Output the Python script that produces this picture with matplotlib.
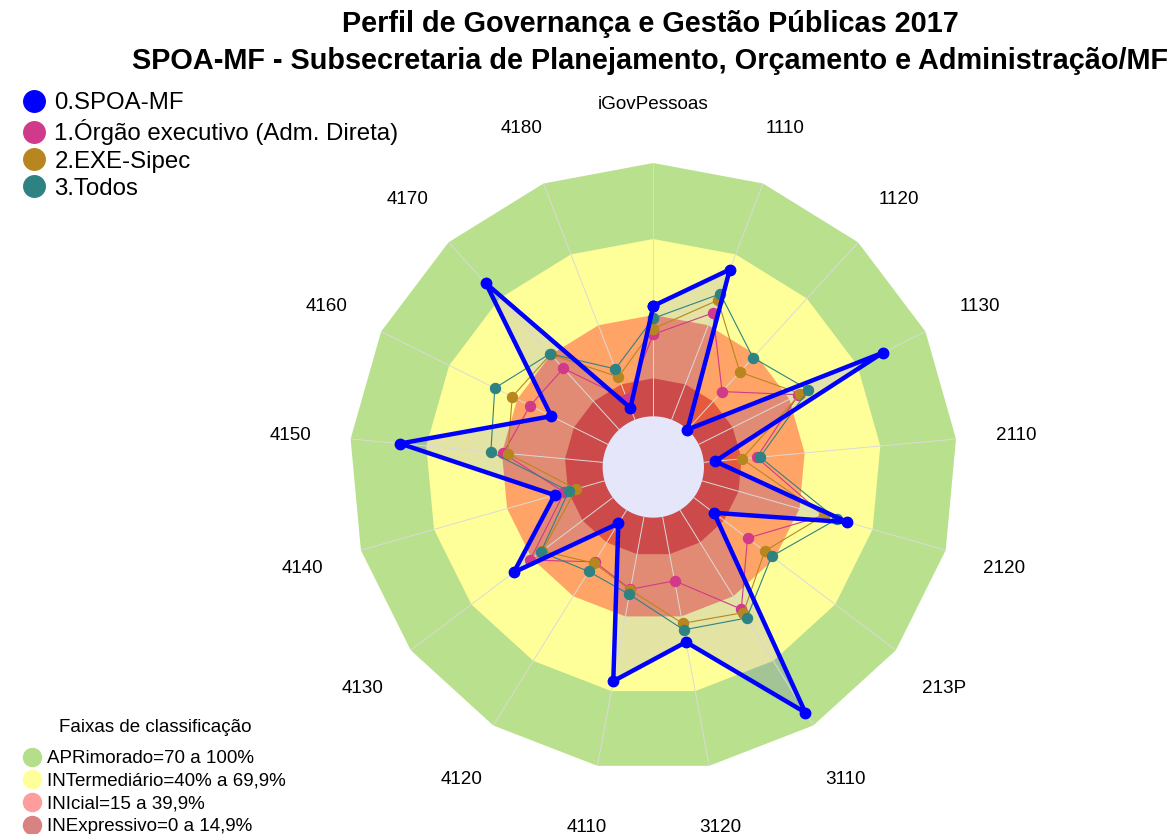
import numpy as np
import matplotlib
matplotlib.use("Agg")
import matplotlib.pyplot as plt
from matplotlib.lines import Line2D

plt.rcParams['font.family'] = ['Liberation Sans', 'DejaVu Sans']

# eixos do radar (sentido horário a partir do topo)
eixos = ['iGovPessoas', '1110', '1120', '1130', '2110', '2120', '213P', '3110',
         '3120', '4110', '4120', '4130', '4140', '4150', '4160', '4170', '4180']

# valores (%)
spoa_mf = [43.6, 63.6, 0.0, 81.2, 4.5, 59.7, 10.0, 94.0, 50.3, 66.0, 6.2, 49.0,
           20.5, 80.4, 25.0, 78.1, 5.0]
orgao_exec = [32.4, 45.2, 20.3, 44.0, 21.0, 50.0, 26.6, 46.0, 25.7, 29.1, 24.0, 41.0,
              16.5, 39.5, 34.3, 32.7, 8.6]
exe_sipec = [34.6, 50.6, 30.7, 44.9, 15.1, 50.0, 35.1, 47.6, 42.8, 29.4, 24.6, 35.0,
             11.7, 37.7, 42.2, 40.2, 18.1]
todos = [38.7, 53.3, 38.4, 48.4, 22.3, 55.3, 38.5, 50.1, 45.4, 31.2, 28.5, 35.6,
         14.7, 44.4, 49.9, 40.5, 21.5]

series_nomes = ['0.SPOA-MF', '1.Órgão executivo (Adm. Direta)', '2.EXE-Sipec', '3.Todos']
series_cores = ['#0000FF', '#D1398A', '#B8861E', '#2F8282']

# faixas de classificação (limite superior, cor fora, cor dentro do polígono SPOA-MF)
faixas_lim = [100, 70, 40, 15]
faixas_cor = ['#B9E08C', '#FFFF99', '#FFA466', '#E55A3C']
faixas_cor_dentro = ['#A3C596', '#E3E3A3', '#E28B74', '#CC4A4A']
faixas_nomes = ['APRimorado=70 a 100%', 'INTermediário=40% a 69,9%',
                'INIcial=15 a 39,9%', 'INExpressivo=0 a 14,9%']
faixas_legenda_cor = ['#B5DE8A', '#FFFF99', '#FF9C9C', '#D98282']

n = len(eixos)
theta = np.linspace(0, 2 * np.pi, n, endpoint=False)
theta_c = np.append(theta, theta[0])


def fechar(v):
    return np.append(v, v[0])


fig = plt.figure(figsize=(11.76, 8.34), dpi=100)
ax = fig.add_axes([349.3 / 1176, 63 / 834, 608 / 1176, 608 / 834], projection='polar')
ax.set_theta_zero_location('N')
ax.set_theta_direction(-1)
ax.set_ylim(-20, 100)
ax.grid(False)
ax.set_xticks([])
ax.set_yticks([])
ax.spines['polar'].set_visible(False)
ax.patch.set_visible(False)

# polígono de recorte (área do SPOA-MF)
clip = ax.fill(theta_c, fechar(spoa_mf), facecolor='none', edgecolor='none')[0]

# faixas de fundo
for lim, cor, cor_in in zip(faixas_lim, faixas_cor, faixas_cor_dentro):
    ax.fill(theta_c, [lim] * (n + 1), color=cor, lw=0, zorder=1)
    p = ax.fill(theta_c, [lim] * (n + 1), color=cor_in, lw=0, zorder=1.5)[0]
    p.set_clip_path(clip)

# miolo
circ = np.linspace(0, 2 * np.pi, 200)
ax.fill(circ, np.zeros_like(circ), color='#E6E6FA', lw=0, zorder=2)

# raios
for t in theta:
    ax.plot([t, t], [0, 100], color='#DADADA', lw=0.7, zorder=2.5)

# séries
ordem = [1, 2, 3, 0]
dados = [spoa_mf, orgao_exec, exe_sipec, todos]
for i in ordem:
    if i == 0:
        lw, ms, z = 3.2, 7.5, 4
    else:
        lw, ms, z = 0.8, 7.2, 3 + i * 0.1
    ax.plot(theta_c, fechar(dados[i]), color=series_cores[i], lw=lw, marker='o',
            markersize=ms, zorder=z)

# rótulos dos eixos
for t, nome in zip(theta, eixos):
    ax.text(t, 124, nome, ha='center', va='center_baseline', fontsize=13.6, clip_on=False)

# título
fig.text(0.553, 1 - 24 / 834, 'Perfil de Governança e Gestão Públicas 2017', ha='center',
         va='center', fontsize=20.8, fontweight='bold')
fig.text(0.553, 1 - 61 / 834, 'SPOA-MF - Subsecretaria de Planejamento, Orçamento e Administração/MF',
         ha='center', va='center', fontsize=20.8, fontweight='bold')

# legenda das séries
h1 = [Line2D([], [], ls='', marker='o', markersize=15.5, color=c) for c in series_cores]
fig.legend(h1, series_nomes, loc='upper left', bbox_to_anchor=(22 / 1176, 1 - 92 / 834),
           frameon=False, fontsize=17.3, handlelength=1.0, handletextpad=0.35,
           labelspacing=0.22, borderpad=0, borderaxespad=0)

# legenda das faixas
fig.text(155 / 1176, 1 - 727 / 834, 'Faixas de classificação', ha='center', va='center',
         fontsize=13.5)
h2 = [Line2D([], [], ls='', marker='o', markersize=13, color=c) for c in faixas_legenda_cor]
fig.legend(h2, faixas_nomes, loc='upper left',
           bbox_to_anchor=(23 / 1176, 1 - 750 / 834), frameon=False, fontsize=13.5,
           handlelength=1.0, handletextpad=0.3,
           labelspacing=0.3, borderpad=0, borderaxespad=0)

fig.savefig('out.png', dpi=100)
